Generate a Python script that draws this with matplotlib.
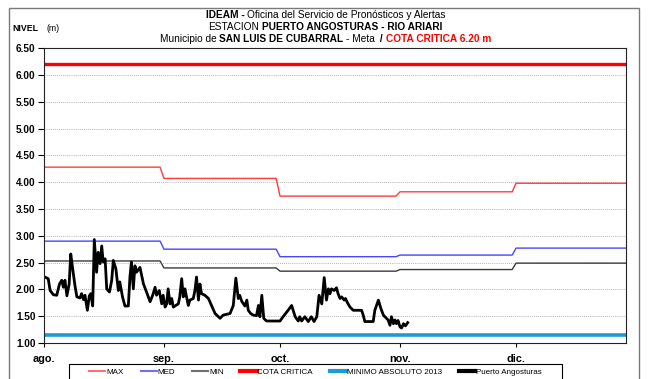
import numpy as np
import matplotlib
matplotlib.use("Agg")
import matplotlib.pyplot as plt
from matplotlib.lines import Line2D
from matplotlib.patches import Rectangle

plt.rcParams['font.family'] = ['Liberation Sans', 'DejaVu Sans']

inicio = np.datetime64('2014-08-01')
meses = ['ago.', 'sep.', 'oct.', 'nov.', 'dic.']
inicio_mes = np.array(['2014-08-01', '2014-09-01', '2014-10-01', '2014-11-01',
                       '2014-12-01', '2015-01-01'], dtype='datetime64[D]')

# niveles mensuales de referencia (m)
nivel_max = [4.28, 4.07, 3.74, 3.82, 3.98]
nivel_med = [2.90, 2.75, 2.61, 2.64, 2.77]
nivel_min = [2.53, 2.40, 2.34, 2.37, 2.49]
cota_critica = 6.20
minimo_absoluto = 1.15

# lecturas Puerto Angosturas: dias desde el 1 de agosto y nivel (m)
dia = [0.2, 1.1, 1.6, 2.4, 3.3, 4.0, 4.6, 5.0, 5.4, 5.9,
       6.5, 6.9, 7.4, 8.0, 8.5, 9.3, 9.7, 10.2, 10.6, 11.2,
       11.7, 12.1, 12.6, 13.0, 13.6, 14.0, 14.5, 14.9, 15.3, 15.8,
       16.2, 16.9, 17.5, 17.9, 18.6, 19.2, 19.6, 20.3, 20.9, 21.8,
       22.2, 22.6, 23.1, 23.5, 23.9, 24.8, 25.7, 26.5, 27.4, 28.1,
       28.7, 29.1, 29.8, 30.4, 30.8, 31.3, 31.7, 32.1, 32.6, 33.0,
       33.4, 34.1, 34.7, 35.1, 35.6, 36.0, 36.4, 37.3, 37.7, 38.6,
       39.0, 39.4, 39.9, 40.3, 40.7, 41.6, 42.5, 43.3, 44.2, 45.5,
       46.3, 48.1, 48.9, 49.6, 50.2, 50.6, 51.1, 51.9, 52.4, 52.8,
       53.4, 54.1, 54.9, 55.4, 55.8, 56.3, 56.8, 57.5, 61.0, 61.8,
       63.1, 64.0, 64.9, 65.7, 66.1, 66.6, 67.4, 68.3, 69.1, 69.8,
       70.5, 71.1, 71.8, 72.4, 73.0, 73.5, 73.9, 74.3, 75.0, 75.6,
       76.0, 76.5, 76.9, 77.6, 77.9, 78.5, 79.1, 79.9, 82.1, 82.5,
       82.9, 85.1, 85.5, 86.4, 87.1, 87.7, 88.5, 88.9, 89.4, 89.8,
       90.3, 90.7, 91.1, 91.5, 92.0, 92.4, 92.9, 93.4, 94.0]
nivel = [2.23, 2.20, 1.98, 1.90, 1.89, 2.10, 2.17, 2.04, 2.17, 1.88,
         2.10, 2.66, 2.38, 2.07, 1.86, 1.84, 1.92, 1.81, 1.89, 1.61,
         1.88, 1.92, 1.69, 2.93, 2.32, 2.69, 2.48, 2.81, 2.51, 2.57,
         2.01, 1.95, 2.17, 2.54, 2.38, 1.98, 2.14, 1.86, 1.69, 1.69,
         2.23, 2.51, 2.01, 2.44, 2.32, 2.41, 2.10, 1.95, 1.77, 1.89,
         2.04, 1.89, 1.98, 1.73, 1.89, 1.67, 1.73, 2.01, 1.73, 1.83,
         1.67, 1.70, 1.73, 1.86, 2.20, 1.86, 2.01, 1.70, 1.80, 1.83,
         1.98, 2.23, 1.80, 2.10, 1.92, 1.89, 1.83, 1.70, 1.55, 1.46,
         1.52, 1.55, 1.70, 2.21, 1.83, 1.89, 1.78, 1.69, 1.80, 1.61,
         1.55, 1.52, 1.51, 1.70, 1.49, 1.89, 1.46, 1.41, 1.41, 1.49,
         1.61, 1.70, 1.49, 1.41, 1.49, 1.41, 1.49, 1.40, 1.49, 1.40,
         1.49, 1.89, 1.73, 2.22, 1.80, 2.01, 1.92, 2.01, 1.98, 2.03,
         1.92, 1.83, 1.86, 1.80, 1.83, 1.74, 1.67, 1.61, 1.61, 1.52,
         1.40, 1.40, 1.61, 1.80, 1.64, 1.52, 1.46, 1.43, 1.33, 1.49,
         1.36, 1.43, 1.36, 1.42, 1.30, 1.28, 1.36, 1.32, 1.38]

fin_eje = inicio + np.timedelta64(150 * 24 + 10, 'h')


def escalones(valores):
    # cada mes se mantiene constante del primer al ultimo dia
    xs, ys = [], []
    for i, v in enumerate(valores):
        xs += [inicio_mes[i], inicio_mes[i + 1] - np.timedelta64(1, 'D')]
        ys += [v, v]
    return np.array(xs, dtype='datetime64[h]'), ys


fig = plt.figure(figsize=(6.51, 3.79), dpi=100)
ax = fig.add_axes([0.0676, 0.095, 0.894, 0.778])

x, y = escalones(nivel_max)
ax.plot(x, y, color='#ff3c3c', lw=1.0)
x, y = escalones(nivel_med)
ax.plot(x, y, color='#4646ff', lw=1.0)
x, y = escalones(nivel_min)
ax.plot(x, y, color='#3a3a3a', lw=1.0)
ax.axhline(cota_critica, color='#ff0000', lw=2.4)
ax.axhline(minimo_absoluto, color='#1b9ad6', lw=2.6)

t = inicio + (np.array(dia) * 24).round().astype('timedelta64[h]')
ax.plot(t, nivel, color='black', lw=2.0, solid_joinstyle='round')

ax.set_xlim(inicio, fin_eje)
ax.set_ylim(1.0, 6.5)
ax.set_yticks(np.arange(1.0, 6.51, 0.5))
ax.yaxis.set_major_formatter(plt.FormatStrFormatter('%.2f'))
ax.set_xticks(inicio_mes[:5].astype('datetime64[h]'))
ax.set_xticklabels(meses)
ax.grid(axis='y', color='#9a9a9a', lw=0.6, ls=(0, (1, 1.5)))
ax.tick_params(axis='y', direction='out', length=4, width=0.8, pad=2,
               labelsize=7.2)
ax.tick_params(axis='x', direction='out', length=3, width=0.8, pad=5,
               labelsize=7.8)
for lab in ax.get_yticklabels() + ax.get_xticklabels():
    lab.set_fontweight('bold')
for s in ax.spines.values():
    s.set_linewidth(0.8)
    s.set_color('#222222')

# marco exterior de la grafica
fig.patches.append(Rectangle((9 / 651, -0.2), 630 / 651, 1.2 - 8 / 379,
                             transform=fig.transFigure, fill=False,
                             edgecolor='#7a7a7a', lw=1.0))

fig.text(0.019, 0.926, 'NIVEL', fontsize=6.3, fontweight='bold', va='center')
fig.text(0.071, 0.926, '(m)', fontsize=6.3, va='center')

# titulo en tres renglones con partes en negrilla y en rojo
renderer = fig.canvas.get_renderer()


def renglon(yf, partes, size=7.3, gap=2.5):
    textos = []
    for texto, peso, color in partes:
        textos.append(fig.text(0, yf, texto, fontsize=size, fontweight=peso,
                               color=color, va='center', ha='left'))
    anchos = [tx.get_window_extent(renderer).width for tx in textos]
    total = sum(anchos) + gap * (len(anchos) - 1)
    xp = 325.5 - total / 2
    for tx, w in zip(textos, anchos):
        tx.set_x(xp / 651)
        xp += w + gap


renglon(0.961, [('IDEAM -', 'bold', 'black'),
                ('Oficina del Servicio de Pronósticos y Alertas', 'normal', 'black')])
renglon(0.929, [('ESTACION', 'normal', 'black'),
                ('PUERTO ANGOSTURAS - RIO ARIARI', 'bold', 'black')])
renglon(0.897, [('Municipio de', 'normal', 'black'),
                ('SAN LUIS DE CUBARRAL', 'bold', 'black'),
                ('- Meta', 'normal', 'black'),
                (' /', 'bold', 'black'),
                ('COTA CRITICA 6.20 m', 'bold', '#ff0000')])

manejadores = [
    Line2D([], [], color='#ff7070', lw=1.5),
    Line2D([], [], color='#7070ff', lw=1.5),
    Line2D([], [], color='#707070', lw=1.5),
    Line2D([], [], color='#ff0000', lw=3),
    Line2D([], [], color='#1b9ad6', lw=3),
    Line2D([], [], color='black', lw=3),
]
etiquetas = ['MAX', 'MED', 'MIN', 'COTA CRITICA', 'MINIMO ABSOLUTO 2013',
             'Puerto Angosturas']
fig.legend(manejadores, etiquetas, loc='center',
           bbox_to_anchor=(0.4846, 0.0185), ncol=6, fontsize=5.8,
           frameon=False, handlelength=2.0, handletextpad=0.1,
           columnspacing=2.1, borderpad=0, borderaxespad=0)
# caja de la leyenda, abierta por debajo
fig.patches.append(Rectangle((69 / 651, -0.1), 493 / 651, 0.1 + 1 - 364 / 379,
                             transform=fig.transFigure, fill=False,
                             edgecolor='black', lw=0.8))

fig.savefig('out.png', dpi=100)
